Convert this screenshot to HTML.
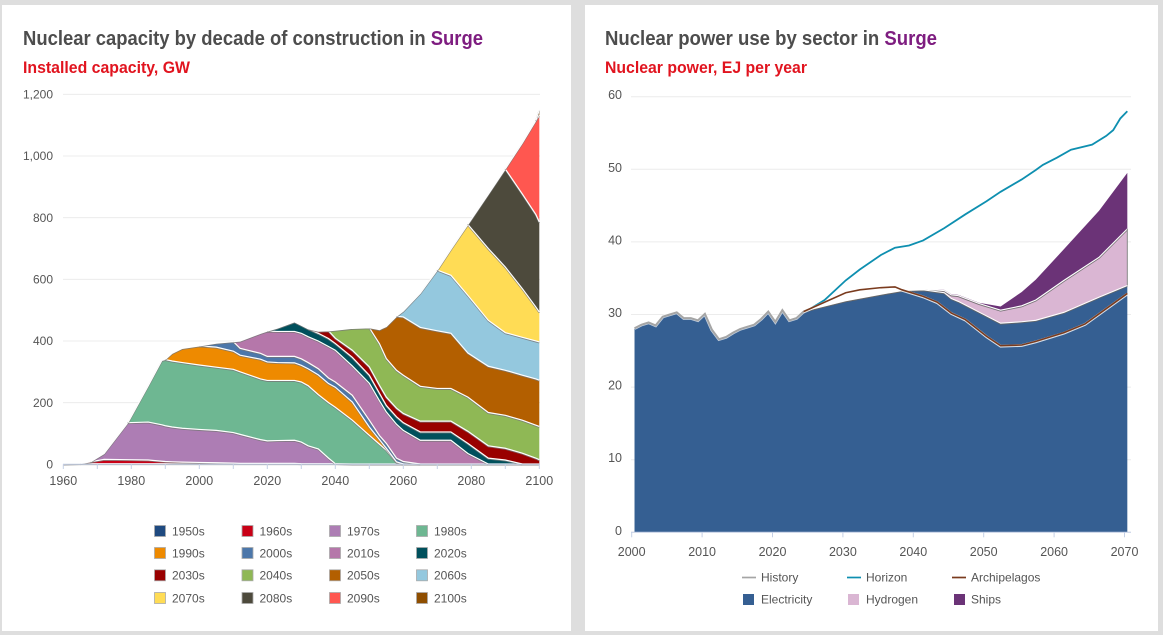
<!DOCTYPE html>
<html lang="en">
<head>
<meta charset="utf-8">
<title>Nuclear capacity and power use in Surge</title>
<style>
html,body{margin:0;padding:0;background:#dedede;}
body{width:1163px;height:635px;overflow:hidden;position:relative;}
svg{position:absolute;left:0;top:0;font-family:"Liberation Sans",sans-serif;}
.t{font-size:20px;font-weight:bold;fill:#4d4d4d;}
.s{font-size:16.5px;font-weight:bold;fill:#e1141f;}
.p{fill:#7e1d80;}
.a{font-size:12.5px;fill:#555;}
.y{font-size:12px;fill:#555;}
.l{font-size:12px;fill:#555;}
</style>
</head>
<body>
<svg id="root" width="1163" height="635" viewBox="0 0 1163 635">
  <rect x="2" y="5" width="569" height="626" fill="#fff"/>
  <rect x="585" y="5" width="573" height="626" fill="#fff"/>
  <text class="t" x="23" y="45" textLength="460" lengthAdjust="spacingAndGlyphs">Nuclear capacity by decade of construction in <tspan class="p">Surge</tspan></text>
  <text class="s" x="23" y="73" textLength="167" lengthAdjust="spacingAndGlyphs">Installed capacity, GW</text>
  <text class="t" x="605" y="45" textLength="332" lengthAdjust="spacingAndGlyphs">Nuclear power use by sector in <tspan class="p">Surge</tspan></text>
  <text class="s" x="605" y="73" textLength="202" lengthAdjust="spacingAndGlyphs">Nuclear power, EJ per year</text>
  <g id="left"></g>
  <g id="right"></g>
</svg>
<script>
// ---------- Left chart data ----------
const capYears = [1960,1965,1968,1972,1979,1985,1989,1990,1992,1995,2000,2005,2010,2012,2018,2020,2023,2028,2030,2032,2035,2038,2040,2045,2050,2053,2055,2058,2060,2065,2070,2074,2079,2085,2090,2095,2099,2100];
const d1950 = [1,2,2,2,2,2,2,2,2,2,2,2,2,2,2,2,2,2,2,2,2,2,2,1,1,1,1,1,1,1,1,1,1,1,1,1,1,1];
const d1960 = [0,0,6,14,13,12,8,7,6,5,4,3,2,1,1,1,1,1,0,0,0,0,0,0,0,0,0,0,0,0,0,0,0,0,0,0,0,0];
const d1970 = [0,0,0,19,120,123,118,116,113,110,107,105,99,94,77,73,74,75,70,58,48,18,0,0,0,0,0,0,0,0,0,0,0,0,0,0,0,0];
const d1980 = [0,0,0,0,0,118,209,215,214,213,209,205,205,203,197,196,195,194,195,195,176,180,183,142,93,64,45,5,0,0,0,0,0,0,0,0,0,0];
const d1990 = [0,0,0,0,0,0,0,0,25,46,62,65,59,54,64,60,58,57,54,55,64,62,65,59,27,15,6,2,0,0,0,0,0,0,0,0,0,0];
const d2000 = [0,0,0,0,0,0,0,0,0,0,0,13,31,22,19,18,20,21,21,20,20,18,17,22,22,13,16,12,8,0,0,0,0,0,0,0,0,0];
const d2010 = [0,0,0,0,0,0,0,0,0,0,0,0,0,24,65,82,81,81,83,84,90,102,103,95,120,113,102,110,101,77,77,77,34,0,0,0,0,0];
const d2020 = [0,0,0,0,0,0,0,0,0,0,0,0,0,0,0,0,11,31,26,26,25,26,22,28,26,24,21,24,25,27,27,27,33,19,13,0,0,0];
const d2030 = [0,0,0,0,0,0,0,0,0,0,0,0,0,0,0,0,0,0,0,0,7,25,17,23,27,26,27,28,30,35,35,35,39,40,38,35,19,14];
const d2040 = [0,0,0,0,0,0,0,0,0,0,0,0,0,0,0,0,0,0,0,0,0,0,26,71,127,135,125,123,124,113,106,106,111,108,107,107,107,108];
const d2050 = [0,0,0,0,0,0,0,0,0,0,0,0,0,0,0,0,0,0,0,0,0,0,0,0,0,46,104,175,189,191,187,179,143,150,146,146,150,150];
const d2060 = [0,0,0,0,0,0,0,0,0,0,0,0,0,0,0,0,0,0,0,0,0,0,0,0,0,0,0,0,19,111,197,188,187,149,122,123,123,124];
const d2070 = [0,0,0,0,0,0,0,0,0,0,0,0,0,0,0,0,0,0,0,0,0,0,0,0,0,0,0,0,0,0,0,84,230,233,213,158,110,97];
const d2080 = [0,0,0,0,0,0,0,0,0,0,0,0,0,0,0,0,0,0,0,0,0,0,0,0,0,0,0,0,0,0,0,0,0,176,318,307,300,292];
const d2090 = [0,0,0,0,0,0,0,0,0,0,0,0,0,0,0,0,0,0,0,0,0,0,0,0,0,0,0,0,0,0,0,0,0,0,0,165,305,346];
const d2100 = [0,0,0,0,0,0,0,0,0,0,0,0,0,0,0,0,0,0,0,0,0,0,0,0,0,0,0,0,0,0,0,0,0,0,0,0,0,18];
const capNames = ["1950s","1960s","1970s","1980s","1990s","2000s","2010s","2020s","2030s","2040s","2050s","2060s","2070s","2080s","2090s","2100s"];
const capColors = ["#1f4a80","#c90016","#ad7db4","#6eb792","#ee8a00","#4c77aa","#b577aa","#00505c","#990000","#8fb855","#b35f00","#94c8de","#ffdc55","#4d4a3c","#ff5750","#8f4e00"];
const capSeries = [d1950,d1960,d1970,d1980,d1990,d2000,d2010,d2020,d2030,d2040,d2050,d2060,d2070,d2080,d2090,d2100];
const capYTicks = [0,200,400,600,800,1000,1200];
const capXLabels = [1960,1980,2000,2020,2040,2060,2080,2100];
const capXTicks = [1960,1970,1980,1990,2000,2010,2020,2030,2040,2050,2060,2070,2080,2090,2100];

// ---------- Right chart data ----------
const histYears = [2000,2001,2002,2003,2004,2005,2006,2007,2008,2009,2010,2011,2012,2013,2014,2015,2016,2017,2018,2019,2020,2021,2022,2023,2024];
const histValues = [28.1,28.6,28.9,28.5,29.7,30.0,30.3,29.5,29.5,29.2,30.1,27.9,26.6,26.9,27.5,28.0,28.3,28.6,29.4,30.4,29.0,30.6,29.2,29.5,30.4];
const stackYears = [2024,2025,2030,2035,2038,2041,2044,2045,2046,2049,2052,2055,2057,2061,2066,2070];
const electricity = [30.4,30.7,31.9,32.8,33.3,33.4,33.0,32.2,31.8,30.3,28.8,29.0,29.2,30.3,32.4,34.0];
const hydrogen = [0,0,0,0,0,0.1,0.3,0.5,0.8,1.2,1.8,2.2,2.8,4.4,5.5,7.8];
const ships = [0,0,0,0,0,0,0.1,0.1,0.1,0.1,0.5,1.9,2.8,4.3,6.4,7.7];
const horizonYears = [2024,2025,2027,2030,2032,2035,2037,2039,2041,2044,2047,2050,2052,2055,2057,2058,2060,2062,2065,2067,2068,2069,2070];
const horizonValues = [30.4,30.8,32.0,34.7,36.2,38.2,39.2,39.5,40.2,41.9,43.8,45.6,46.9,48.6,49.9,50.6,51.6,52.7,53.4,54.6,55.4,57.0,58.0];
const archYears = [2024,2030,2032,2035,2037,2038,2041,2043,2045,2047,2050,2052,2055,2057,2061,2064,2070];
const archValues = [30.4,33.0,33.4,33.7,33.8,33.4,32.5,31.7,30.2,29.3,27.0,25.7,25.8,26.3,27.5,28.7,32.9];
const powYTicks = [0,10,20,30,40,50,60];
const powXTicks = [2000,2010,2020,2030,2040,2050,2060,2070];

const NS = "http://www.w3.org/2000/svg";
function el(tag, attrs, parent, text) {
  const e = document.createElementNS(NS, tag);
  for (const k in attrs) e.setAttribute(k, attrs[k]);
  if (text !== undefined) e.textContent = text;
  parent.appendChild(e);
  return e;
}
const fmt = n => String(n).replace(/\B(?=(\d{3})+$)/g, ",");
function pathOf(pts) {
  return pts.map((p, i) => (i ? "L" : "M") + p[0].toFixed(2) + " " + p[1].toFixed(2)).join("");
}

// ---------- Left chart ----------
const left = document.getElementById("left");
const lx = y => 63.3 + 3.4 * (y - 1960);
const ly = v => 464.3 - 0.3083 * v;

capYTicks.forEach(t => {
  const g = el("line", {x1: 63, x2: 540, y1: ly(t), y2: ly(t), stroke: "#ececec", "stroke-width": 1}, left);
  
  
  const lab = el("text", {class: "y", x: 53, y: ly(t) + 4.2, "text-anchor": "end"}, left, fmt(t));
  
  
});

const cum = capYears.map(() => 0);
capSeries.forEach((vals, k) => {
  const lower = cum.slice();
  vals.forEach((v, i) => { cum[i] += v; });
  const first = vals.findIndex(v => v > 0);
  if (first < 0) return;
  let last = vals.length - 1;
  while (last > 0 && vals[last] === 0) last--;
  const a = Math.max(first - 1, 0), b = Math.min(last + 1, vals.length - 1);
  const top = [], bot = [];
  for (let i = a; i <= b; i++) {
    top.push([lx(capYears[i]), ly(cum[i])]);
    bot.push([lx(capYears[i]), ly(lower[i])]);
  }
  const band = el("path", {d: pathOf(top.concat(bot.reverse())) + "Z", fill: capColors[k]}, left);
  
  
});

// edges are drawn after all fills so neighbouring bands cannot cover them
const cumEdge = capYears.map(() => 0);
capSeries.forEach((vals, k) => {
  vals.forEach((v, i) => { cumEdge[i] += v; });
  const first = vals.findIndex(v => v > 0);
  if (first < 0) return;
  let last = vals.length - 1;
  while (last > 0 && vals[last] === 0) last--;
  const a = Math.max(first - 1, 0), b = Math.min(last + 1, vals.length - 1);
  const top = [];
  for (let i = a; i <= b; i++) top.push([lx(capYears[i]), ly(cumEdge[i])]);
  const edge = el("path", {d: pathOf(top), fill: "none", stroke: "#777", "stroke-width": 1.6, "stroke-opacity": 0.8, transform: "translate(0,0.7)"}, left);
  
  
  const edge2 = el("path", {d: pathOf(top), fill: "none", stroke: "#fff", "stroke-width": 1.2}, left);
  
  
});

const lAxis = el("line", {x1: 63, x2: 540, y1: 464.3, y2: 464.3, stroke: "#c5d0e6", "stroke-width": 1}, left);


capXTicks.forEach(t => {
  const tk = el("line", {x1: lx(t), x2: lx(t), y1: 464.3, y2: 469, stroke: "#c5d0e6", "stroke-width": 1}, left);
  
  
});
capXLabels.forEach(t => {
  const lab = el("text", {class: "a", x: lx(t), y: 485, "text-anchor": "middle"}, left, t);
  
  
});

const legendXs = [154, 241.5, 329, 416];
const legendYs = [531, 553, 575.3, 598];
capNames.forEach((n, i) => {
  const col = i % 4, row = Math.floor(i / 4);
  const g = el("g", {}, left);
  
  
  el("rect", {x: legendXs[col] + .5, y: legendYs[row] - 5.5, width: 11, height: 11, fill: capColors[i], stroke: "#aaa", "stroke-width": .8}, g);
  el("text", {class: "l", x: legendXs[col] + 18, y: legendYs[row] + 4.3}, g, n);
});

// ---------- Right chart ----------
const right = document.getElementById("right");
const rxTick = y => 631.7 + 7.04 * (y - 2000);
const rx = y => rxTick(y + 0.4);
const ry = v => 532.3 - 7.26 * v;

powYTicks.forEach(t => {
  const g = el("line", {x1: 631, x2: 1131, y1: ry(t), y2: ry(t), stroke: "#ececec", "stroke-width": 1}, right);
  
  
  const lab = el("text", {class: "a", x: 622, y: ry(t) + 2.5, "text-anchor": "end"}, right, t);
  
  
});

const elecAll = histYears.map((y, i) => [rx(y), ry(histValues[i])]).concat(stackYears.slice(1).map((y, i) => [rx(y), ry(electricity[i + 1])]));
const elecArea = el("path", {d: pathOf(elecAll) + "L" + rx(2070).toFixed(2) + " " + ry(0) + "L" + rx(2000).toFixed(2) + " " + ry(0) + "Z", fill: "#355f92"}, right);



const eTop = stackYears.map((y, i) => [rx(y), ry(electricity[i])]);
const hTop = stackYears.map((y, i) => [rx(y), ry(electricity[i] + hydrogen[i])]);
const sTop = stackYears.map((y, i) => [rx(y), ry(electricity[i] + hydrogen[i] + ships[i])]);
const hArea = el("path", {d: pathOf(hTop.concat(eTop.slice().reverse())) + "Z", fill: "#dab6d3"}, right);


const sArea = el("path", {d: pathOf(sTop.concat(hTop.slice().reverse())) + "Z", fill: "#6b3377"}, right);



[[hTop, 'hydrogen'], [eTop, 'electricity']].forEach(pair => {
  const e1 = el("path", {d: pathOf(pair[0]), fill: "none", stroke: "#666", "stroke-width": 1.6, "stroke-opacity": .85, transform: "translate(0,0.7)"}, right);
  
  
  const e2 = el("path", {d: pathOf(pair[0]), fill: "none", stroke: "#fff", "stroke-width": 1.1}, right);
  
  
});
const hEnd = el("line", {x1: rx(2070), x2: rx(2070), y1: hTop[hTop.length - 1][1], y2: eTop[eTop.length - 1][1], stroke: "#888", "stroke-width": 1}, right);



const histPts = histYears.map((y, i) => [rx(y), ry(histValues[i])]);
const hl0 = el("path", {d: pathOf(histPts), fill: "none", stroke: "#fff", "stroke-width": 3.4, "stroke-opacity": .7}, right);


const hl = el("path", {d: pathOf(histPts), fill: "none", stroke: "#a5a5a5", "stroke-width": 2}, right);


const hz = el("path", {d: pathOf(horizonYears.map((y, i) => [rx(y), ry(horizonValues[i])])), fill: "none", stroke: "#0e8fb0", "stroke-width": 1.8}, right);


const archPts = archYears.map((y, i) => [rx(y), ry(archValues[i])]);
const ar0 = el("path", {d: pathOf(archPts), fill: "none", stroke: "#fff", "stroke-width": 2.8, "stroke-opacity": .8, transform: "translate(0,0.5)"}, right);


const ar = el("path", {d: pathOf(archPts), fill: "none", stroke: "#7a3b1e", "stroke-width": 1.6}, right);



const rAxis = el("line", {x1: 631, x2: 1131, y1: ry(0), y2: ry(0), stroke: "#c5d0e6", "stroke-width": 1}, right);


powXTicks.forEach(t => {
  const tk = el("line", {x1: rxTick(t), x2: rxTick(t), y1: ry(0), y2: ry(0) + 5, stroke: "#c5d0e6", "stroke-width": 1}, right);
  
  
  const lab = el("text", {class: "a", x: rxTick(t), y: 556, "text-anchor": "middle"}, right, t);
  
  
});

const lineLegend = [["History", "#a5a5a5", 742], ["Horizon", "#0e8fb0", 847], ["Archipelagos", "#7a3b1e", 952]];
lineLegend.forEach(d => {
  const g = el("g", {}, right);
  
  
  el("line", {x1: d[2], x2: d[2] + 14, y1: 577.5, y2: 577.5, stroke: d[1], "stroke-width": 1.7}, g);
  el("text", {class: "l", x: d[2] + 19, y: 581.5}, g, d[0]);
});
const swatchLegend = [["Electricity", "#355f92", 743], ["Hydrogen", "#dab6d3", 848], ["Ships", "#6b3377", 954]];
const swatchTextX = [761, 866, 971];
swatchLegend.forEach((d, i) => {
  const g = el("g", {}, right);
  
  
  el("rect", {x: d[2], y: 594, width: 11, height: 11, fill: d[1]}, g);
  el("text", {class: "l", x: swatchTextX[i], y: 603.5}, g, d[0]);
});
</script>
</body>
</html>
